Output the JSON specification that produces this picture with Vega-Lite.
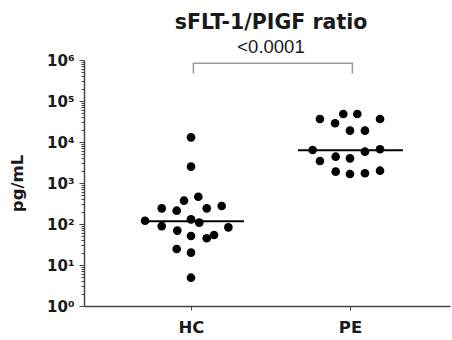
{
  "$schema": "https://vega.github.io/schema/vega-lite/v6.json",
  "width": 366,
  "height": 246,
  "autosize": {"type": "none"},
  "padding": {"left": 84, "top": 60, "right": 2, "bottom": 34},
  "background": "white",
  "title": {
    "text": "sFLT-1/PIGF ratio",
    "subtitle": "<0.0001",
    "font": "DejaVu Sans",
    "fontSize": 20.5,
    "fontWeight": "bold",
    "color": "#1a1a1a",
    "subtitleFont": "Liberation Sans",
    "subtitleFontSize": 18.5,
    "subtitleColor": "#1a1a1a",
    "subtitlePadding": 4.5,
    "anchor": "middle",
    "frame": "group",
    "dx": 4,
    "offset": -3
  },
  "config": {"view": {"stroke": null}, "axis": {"grid": false}},
  "datasets": {
    "points": [
      {"group": "HC", "pos": 1.0, "value": 13000},
      {"group": "HC", "pos": 1.0, "value": 2500},
      {"group": "HC", "pos": 1.046, "value": 463},
      {"group": "HC", "pos": 0.956, "value": 370},
      {"group": "HC", "pos": 0.816, "value": 241},
      {"group": "HC", "pos": 0.91, "value": 211},
      {"group": "HC", "pos": 1.099, "value": 241},
      {"group": "HC", "pos": 1.193, "value": 275},
      {"group": "HC", "pos": 0.711, "value": 120},
      {"group": "HC", "pos": 1.0, "value": 130},
      {"group": "HC", "pos": 1.052, "value": 108},
      {"group": "HC", "pos": 0.816, "value": 89},
      {"group": "HC", "pos": 1.235, "value": 83},
      {"group": "HC", "pos": 0.914, "value": 69},
      {"group": "HC", "pos": 1.0, "value": 51},
      {"group": "HC", "pos": 1.099, "value": 45},
      {"group": "HC", "pos": 1.145, "value": 54},
      {"group": "HC", "pos": 0.91, "value": 24.6},
      {"group": "HC", "pos": 1.0, "value": 20},
      {"group": "HC", "pos": 1.0, "value": 4.9},
      {"group": "PE", "pos": 1.811, "value": 36400},
      {"group": "PE", "pos": 1.958, "value": 48200},
      {"group": "PE", "pos": 2.046, "value": 48200},
      {"group": "PE", "pos": 2.189, "value": 36400},
      {"group": "PE", "pos": 1.906, "value": 28600},
      {"group": "PE", "pos": 2.0, "value": 18900},
      {"group": "PE", "pos": 2.094, "value": 18900},
      {"group": "PE", "pos": 1.765, "value": 6380},
      {"group": "PE", "pos": 2.094, "value": 5800},
      {"group": "PE", "pos": 2.189, "value": 6640},
      {"group": "PE", "pos": 1.811, "value": 3440},
      {"group": "PE", "pos": 1.91, "value": 4380},
      {"group": "PE", "pos": 2.0, "value": 4000},
      {"group": "PE", "pos": 1.91, "value": 1890},
      {"group": "PE", "pos": 2.0, "value": 1660},
      {"group": "PE", "pos": 2.094, "value": 1730},
      {"group": "PE", "pos": 2.189, "value": 1995}
    ],
    "medians": [
      {"group": "HC", "x1": 0.698, "x2": 1.333, "med": 116},
      {"group": "PE", "x1": 1.673, "x2": 2.333, "med": 6280}
    ],
    "bracket": [
      {"bx": 1.015, "by": 470000, "o": 1},
      {"bx": 1.015, "by": 830000, "o": 2},
      {"bx": 2.015, "by": 830000, "o": 3},
      {"bx": 2.015, "by": 470000, "o": 4}
    ]
  },
  "layer": [
    {
      "data": {"name": "points"},
      "mark": {"type": "point", "filled": true, "size": 75, "color": "black", "opacity": 1},
      "encoding": {
        "x": {
          "field": "pos",
          "type": "quantitative",
          "scale": {"domain": [0.327, 2.629], "nice": false, "zero": false},
          "axis": {
            "values": [1, 2],
            "labelExpr": "datum.value == 1 ? 'HC' : 'PE'",
            "title": null,
            "grid": false,
            "tickSize": 4,
            "tickColor": "#444",
            "domainColor": "#444",
            "domainWidth": 1.5,
            "labelFont": "DejaVu Sans",
            "labelFontWeight": "bold",
            "labelFontSize": 16.5,
            "labelColor": "#1a1a1a",
            "labelPadding": 9,
            "labelFlush": false
          }
        },
        "y": {
          "field": "value",
          "type": "quantitative",
          "scale": {"type": "log", "domain": [1, 1000000], "nice": false},
          "axis": {
            "orient": "left",
            "values": [1, 10, 100, 1000, 10000, 100000, 1000000],
            "labelExpr": "'10' + ['⁰','¹','²','³','⁴','⁵','⁶'][round(log(datum.value)/LN10)]",
            "grid": false,
            "tickSize": 5,
            "tickColor": "#444",
            "domainColor": "#444",
            "domainWidth": 1.5,
            "labelFont": "DejaVu Sans",
            "labelFontWeight": "bold",
            "labelFontSize": 15,
            "labelColor": "#1a1a1a",
            "labelPadding": 5,
            "labelOverlap": false,
            "title": "pg/mL",
            "titleFont": "DejaVu Sans",
            "titleFontSize": 16.5,
            "titleFontWeight": "bold",
            "titleColor": "#1a1a1a",
            "titlePadding": 21
          }
        }
      }
    },
    {
      "data": {"name": "medians"},
      "mark": {"type": "rule", "color": "black", "strokeWidth": 2},
      "encoding": {
        "x": {"field": "x1", "type": "quantitative"},
        "x2": {"field": "x2"},
        "y": {
          "field": "med",
          "type": "quantitative",
          "axis": {
            "orient": "left",
            "values": [2,3,4,5,6,7,8,9,20,30,40,50,60,70,80,90,200,300,400,500,600,700,800,900,2000,3000,4000,5000,6000,7000,8000,9000,20000,30000,40000,50000,60000,70000,80000,90000,200000,300000,400000,500000,600000,700000,800000,900000],
            "labels": false,
            "domain": false,
            "grid": false,
            "title": null,
            "tickSize": 3,
            "tickColor": "#444"
          }
        }
      }
    },
    {
      "data": {"name": "bracket"},
      "mark": {"type": "line", "color": "#9a9a9a", "strokeWidth": 1.5},
      "encoding": {
        "x": {"field": "bx", "type": "quantitative"},
        "y": {"field": "by", "type": "quantitative", "axis": null},
        "order": {"field": "o"}
      }
    }
  ],
  "resolve": {"axis": {"y": "independent"}}
}
